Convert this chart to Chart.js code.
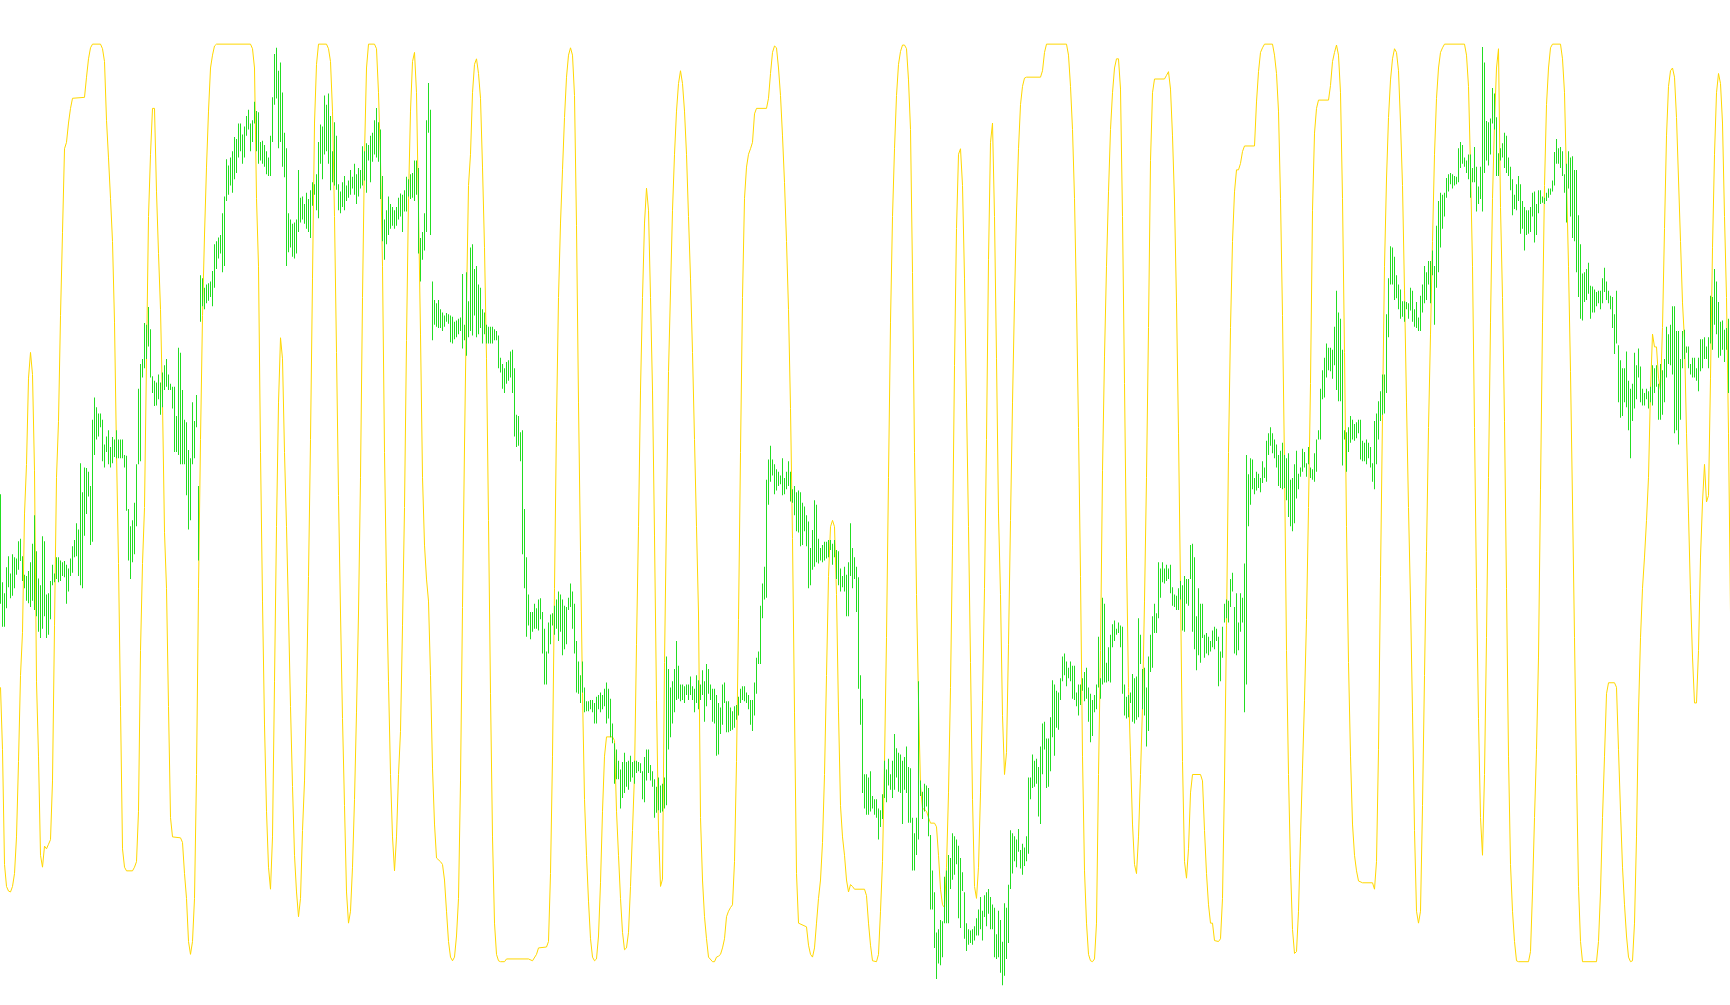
<!DOCTYPE html>
<html>
<head>
<meta charset="utf-8">
<title>Price bars and oscillator</title>
<script src="https://cdn.jsdelivr.net/npm/chart.js@4.4.1/dist/chart.umd.min.js"></script>
<style>
    html, body { margin: 0; padding: 0; background: #ffffff; }
    #wrap { width: 1730px; height: 1005px; }
</style>
</head>
<body>
<div id="wrap"><canvas id="chart" width="1730" height="1005"></canvas></div>
<script>
// Price bars: high and low for every bar (bar number = index)
const greenHigh = [
    1252,1110,1092,1134,1152,1124,1155,1150,1148,1176,
    1180,1152,1122,1120,1128,1142,1172,1218,1160,1116,
    1105,1184,1176,1090,1092,1112,1138,1124,1150,1150,
    1145,1142,1144,1138,1132,1148,1168,1178,1205,1195,
    1302,1255,1295,1294,1288,1265,1372,1408,1392,1382,
    1382,1372,1332,1345,1355,1328,1344,1340,1355,1340,
    1340,1340,1315,1314,1228,1200,1210,1238,1300,1422,
    1462,1470,1528,1525,1554,1518,1442,1435,1432,1445,
    1432,1448,1460,1470,1445,1430,1425,1425,1378,1488,
    1480,1420,1372,1368,1323,1310,1400,1370,1412,1265,
    1605,1600,1585,1590,1592,1595,1612,1655,1660,1666,
    1670,1705,1732,1792,1782,1795,1805,1828,1825,1850,
    1850,1832,1845,1862,1872,1850,1855,1885,1870,1868,
    1820,1822,1815,1805,1795,1830,1892,1962,1972,1935,
    1948,1900,1835,1810,1705,1695,1688,1690,1695,1775,
    1730,1732,1720,1738,1728,1742,1755,1752,1768,1820,
    1848,1845,1895,1880,1898,1862,1805,1852,1830,1752,
    1740,1755,1765,1750,1758,1775,1764,1785,1768,1778,
    1775,1813,1805,1818,1815,1830,1835,1855,1875,1852,
    1840,1765,1695,1710,1732,1720,1715,1710,1715,1730,
    1737,1735,1742,1764,1760,1768,1770,1790,1790,1778,
    1665,1675,1705,1855,1915,1872,1595,1565,1560,1565,
    1550,1545,1540,1544,1542,1540,1538,1530,1532,1535,
    1537,1607,1525,1610,1563,1650,1655,1615,1620,1590,
    1585,1550,1545,1525,1522,1522,1522,1518,1515,1508,
    1472,1462,1455,1465,1468,1482,1485,1455,1380,1378,
    1352,1355,1228,1150,1090,1062,1062,1075,1068,1082,
    1084,1062,1035,998,1045,1058,1060,1072,1082,1095,
    1090,1082,1072,1070,1085,1108,1095,1075,1015,982,
    960,982,940,918,918,920,920,915,925,928,
    932,928,938,948,938,922,882,850,840,822,
    808,820,835,820,822,830,820,822,822,820,
    818,805,828,840,840,815,805,792,780,795,
    782,785,795,990,970,940,950,970,1015,975,
    945,945,942,945,945,958,942,938,960,952,
    945,968,950,978,970,945,938,938,928,915,
    908,945,948,918,918,908,902,910,912,925,
    938,942,942,932,928,920,920,948,988,998,
    1072,1108,1135,1275,1308,1330,1308,1300,1292,1288,
    1282,1310,1278,1288,1305,1288,1260,1265,1255,1258,
    1255,1238,1232,1218,1208,1165,1194,1242,1235,1180,
    1165,1170,1175,1175,1178,1178,1172,1178,1162,1160,
    1132,1120,1135,1122,1142,1205,1165,1150,1135,1118,
    960,922,800,800,795,805,765,760,760,745,
    742,768,822,808,825,800,822,865,842,835,
    832,822,828,845,812,810,730,705,730,950,
    790,772,785,782,778,702,645,610,545,550,
    565,563,635,645,670,665,705,700,695,685,
    665,642,610,560,550,548,550,555,568,582,
    602,580,605,610,615,602,590,585,542,580,
    565,530,592,585,622,710,705,700,695,712,
    678,688,682,700,795,795,832,822,825,812,
    845,882,885,858,858,892,952,945,935,932,
    955,990,995,982,972,982,975,975,932,945,
    945,955,965,972,940,930,920,928,945,1022,
    955,1085,1075,980,1005,1025,1042,1048,1035,1045,
    1040,1038,945,925,928,932,962,955,958,1052,
    1025,970,972,940,990,1025,1055,1075,1060,1142,
    1132,1142,1132,1138,1132,1138,1102,1090,1088,1100,
    1112,1105,1120,1115,1115,1170,1172,1150,1055,1100,
    1075,1075,1025,1028,1022,1015,1032,1038,1035,1022,
    998,1038,1075,1082,1080,1115,1125,1070,1092,1045,
    1092,1085,1140,1315,1284,1310,1308,1278,1288,1285,
    1278,1305,1295,1338,1350,1360,1350,1340,1332,1315,
    1322,1335,1315,1310,1318,1275,1278,1300,1322,1285,
    1295,1325,1320,1302,1328,1295,1292,1318,1340,1355,
    1422,1452,1472,1495,1488,1488,1485,1522,1580,1545,
    1535,1485,1355,1352,1360,1378,1372,1365,1368,1372,
    1372,1338,1335,1340,1335,1328,1302,1370,1382,1402,
    1418,1445,1445,1542,1600,1652,1650,1635,1605,1590,
    1582,1563,1563,1562,1560,1585,1580,1550,1562,1537,
    1572,1590,1620,1610,1628,1628,1645,1620,1685,1725,
    1738,1735,1738,1762,1768,1770,1768,1765,1764,1810,
    1820,1815,1795,1790,1800,1800,1778,1812,1780,1748,
    1780,1973,1948,1854,1852,1858,1907,1898,1860,1802,
    1810,1818,1835,1830,1795,1780,1760,1735,1752,1765,
    1752,1725,1715,1710,1710,1715,1738,1740,1720,1742,
    1742,1732,1730,1738,1745,1745,1758,1804,1825,1810,
    1812,1805,1768,1785,1805,1795,1797,1775,1775,1702,
    1655,1608,1610,1615,1625,1588,1587,1582,1578,1580,
    1580,1600,1617,1595,1580,1572,1570,1542,1580,1492,
    1468,1455,1455,1482,1435,1422,1430,1480,1460,1487,
    1458,1422,1415,1422,1418,1425,1460,1455,1460,1430,
    1462,1452,1470,1522,1510,1525,1555,1555,1515,1515,
    1470,1515,1517,1490,1490,1462,1472,1472,1455,1472,
    1502,1502,1505,1490,1505,1572,1570,1615,1595,1562,
    1530,1532,1517,1520,1535
];

const greenLow = [
    1075,1038,1038,1068,1102,1084,1088,1100,1122,1130,
    1144,1112,1100,1080,1076,1070,1080,1065,1055,1030,
    1020,1035,1055,1020,1025,1050,1105,1110,1115,1110,
    1112,1120,1118,1075,1095,1120,1125,1150,1152,1120,
    1105,1100,1185,1220,1248,1170,1175,1315,1340,1345,
    1360,1305,1295,1320,1300,1295,1302,1312,1310,1310,
    1310,1310,1295,1225,1145,1115,1142,1155,1200,1300,
    1305,1440,1455,1470,1490,1440,1415,1394,1395,1405,
    1380,1392,1420,1425,1420,1420,1390,1320,1320,1315,
    1300,1300,1300,1250,1195,1210,1300,1310,1360,1145,
    1530,1555,1550,1560,1564,1570,1555,1585,1615,1632,
    1640,1610,1620,1725,1735,1750,1738,1760,1770,1795,
    1805,1785,1795,1830,1840,1805,1820,1850,1805,1785,
    1790,1785,1780,1768,1765,1765,1820,1880,1890,1810,
    1820,1780,1763,1620,1642,1650,1635,1632,1640,1675,
    1690,1695,1688,1680,1675,1665,1717,1735,1710,1697,
    1785,1760,1800,1805,1785,1742,1755,1750,1743,1710,
    1705,1715,1710,1725,1730,1735,1745,1735,1720,1732,
    1745,1750,1758,1738,1790,1755,1788,1800,1795,1788,
    1728,1660,1630,1655,1670,1680,1685,1680,1685,1695,
    1700,1675,1708,1708,1732,1728,1730,1725,1735,1640,
    1595,1630,1645,1675,1835,1670,1500,1525,1522,1520,
    1520,1515,1522,1530,1527,1497,1495,1502,1505,1510,
    1515,1487,1500,1475,1505,1515,1508,1540,1505,1510,
    1520,1495,1510,1495,1495,1495,1495,1500,1500,1455,
    1448,1422,1415,1430,1435,1440,1415,1345,1328,1330,
    1305,1155,1100,1022,1040,1018,1030,1035,1035,1032,
    1050,995,945,945,995,1010,1040,1025,1035,1015,
    1030,992,1002,1010,1065,1070,1035,995,932,930,
    915,932,900,902,902,905,900,882,882,905,
    900,905,910,882,890,860,850,785,792,792,
    745,762,770,780,775,788,795,785,802,805,
    802,760,755,790,802,790,780,730,738,742,
    738,740,745,750,840,860,882,900,920,922,
    918,920,915,928,920,928,920,900,915,905,
    920,928,885,910,930,920,885,882,830,832,
    865,880,915,868,868,870,872,875,888,895,
    915,920,918,915,905,880,870,895,930,978,
    978,1052,1082,1085,1235,1272,1282,1252,1258,1265,
    1268,1250,1252,1260,1265,1240,1238,1218,1192,1190,
    1168,1170,1192,1168,1100,1105,1130,1135,1142,1140,
    1145,1142,1145,1148,1150,1162,1138,1150,1115,1105,
    1095,1102,1095,1055,1055,1120,1100,1115,1062,938,
    880,770,745,735,735,740,745,735,730,695,
    715,728,762,755,782,775,762,775,795,772,
    770,720,775,770,722,722,645,645,670,695,
    765,728,740,748,700,582,582,520,470,495,
    492,505,560,560,560,615,630,638,655,568,
    552,612,535,515,525,528,525,532,540,540,
    550,532,570,555,575,550,550,505,502,505,
    480,460,475,502,528,615,640,660,650,675,
    648,638,652,660,672,760,778,780,785,732,
    720,800,840,778,780,805,860,830,875,872,
    920,950,960,942,955,950,922,920,910,895,
    912,935,918,922,885,852,862,900,905,940,
    922,945,948,948,950,948,1005,1015,1025,1028,
    1005,930,895,890,892,915,885,882,888,892,
    978,905,895,845,870,965,972,1028,1028,1052,
    1085,1110,1108,1112,1115,1092,1072,1070,1065,1065,
    1082,1032,1030,1075,1072,1115,1030,1002,968,992,
    980,1020,988,995,992,998,1005,1002,1015,942,
    950,988,1045,1052,1045,1070,1095,995,992,1000,
    1030,1045,900,945,1200,1235,1260,1252,1258,1262,
    1255,1270,1278,1272,1315,1330,1318,1310,1295,1265,
    1262,1260,1262,1242,1215,1200,1192,1205,1245,1260,
    1280,1288,1295,1280,1300,1278,1275,1272,1288,1340,
    1340,1405,1408,1440,1452,1450,1438,1460,1420,1402,
    1402,1298,1340,1288,1320,1335,1340,1338,1342,1350,
    1308,1305,1305,1300,1310,1295,1272,1260,1300,1340,
    1370,1380,1382,1415,1505,1590,1590,1565,1568,1550,
    1535,1538,1530,1550,1535,1548,1530,1522,1520,1515,
    1515,1545,1560,1565,1590,1560,1605,1525,1585,1610,
    1650,1680,1700,1730,1740,1752,1745,1750,1752,1755,
    1778,1785,1780,1770,1760,1730,1755,1755,1708,1720,
    1728,1708,1770,1790,1782,1800,1850,1840,1765,1765,
    1790,1795,1778,1770,1765,1742,1702,1712,1710,1725,
    1672,1680,1645,1670,1672,1675,1700,1658,1670,1705,
    1720,1722,1720,1725,1730,1735,1740,1750,1785,1785,
    1778,1765,1738,1690,1745,1700,1665,1660,1610,1570,
    1535,1532,1562,1565,1575,1535,1545,1545,1555,1560,
    1550,1560,1578,1565,1560,1550,1520,1478,1495,1400,
    1375,1378,1400,1392,1355,1310,1370,1390,1405,1440,
    1400,1395,1395,1405,1390,1400,1395,1415,1425,1372,
    1372,1380,1400,1440,1462,1460,1445,1350,1355,1332,
    1372,1455,1470,1480,1455,1445,1440,1440,1435,1418,
    1450,1455,1470,1470,1455,1495,1485,1525,1510,1472,
    1475,1485,1465,1485,1415
];

// Oscillator (0-100): bar number and reading
const oscBar = [
    0,1,2,3,4,5,6,7,8,9,
    10,11,12,13,14,15,16,17,18,19,
    20,21,22,23,24,25,26,27,28,29,
    30,31,32,33,34,35,36,42,43,44,
    45,46,50,51,52,53,54,55,56,57,
    58,59,60,61,62,63,66,67,68,69,
    70,71,72,73,74,75,76,77,78,79,
    80,81,82,83,84,85,86,90,91,92,
    93,94,95,96,97,98,99,100,101,102,
    103,104,105,106,107,108,125,126,127,128,
    129,130,131,132,133,134,135,136,137,138,
    139,140,141,142,143,144,145,146,147,148,
    149,150,151,152,153,154,155,156,157,158,
    159,163,164,165,166,167,168,169,170,171,
    172,173,174,175,176,177,178,179,180,181,
    182,183,184,187,188,189,190,191,192,193,
    194,195,196,197,198,199,200,201,202,203,
    204,205,206,207,208,209,210,211,212,213,
    214,215,216,217,218,220,221,222,223,224,
    225,226,227,228,229,230,231,232,233,234,
    235,236,237,238,239,240,241,242,243,244,
    245,246,247,248,249,250,252,253,264,266,
    268,269,273,274,275,276,277,278,279,280,
    281,282,283,284,285,286,287,288,289,290,
    291,292,293,294,295,296,297,298,299,300,
    301,302,303,306,307,308,309,310,311,312,
    313,314,315,316,317,318,319,320,321,322,
    323,324,325,326,327,328,329,330,331,332,
    333,334,335,336,337,338,339,340,341,342,
    343,344,345,346,347,348,349,350,351,352,
    353,354,356,357,358,359,360,361,362,363,
    364,365,366,367,368,369,370,371,372,373,
    374,375,376,377,378,383,384,385,386,387,
    388,389,390,391,392,393,394,395,396,397,
    398,399,403,404,405,406,407,408,409,410,
    411,412,413,414,415,416,417,418,419,420,
    421,422,423,424,425,426,427,432,433,434,
    435,436,438,439,440,441,442,443,444,445,
    446,447,448,449,450,451,452,453,454,455,
    456,457,458,459,460,461,462,463,464,465,
    467,468,469,470,471,472,473,474,475,476,
    477,478,479,480,481,482,483,484,485,486,
    487,488,489,490,491,492,493,494,495,496,
    497,498,499,500,501,502,503,504,505,506,
    507,508,509,510,511,512,513,520,521,522,
    523,533,534,535,536,537,538,539,540,541,
    542,543,544,545,546,547,548,549,550,551,
    552,553,554,555,556,557,558,559,560,561,
    562,563,564,565,566,567,568,569,570,571,
    572,573,574,575,576,577,582,583,584,585,
    586,587,588,589,590,591,592,593,594,595,
    596,600,601,602,603,604,605,606,607,609,
    610,611,612,613,614,615,616,617,618,619,
    620,621,622,627,628,629,630,631,632,636,
    637,638,639,640,641,642,643,644,645,646,
    647,648,649,650,651,652,653,654,655,656,
    657,658,659,664,665,666,667,668,669,670,
    671,672,673,674,675,676,677,678,679,681,
    686,687,688,689,690,691,692,693,694,695,
    696,697,698,699,700,701,702,703,704,705,
    706,707,708,709,710,711,712,713,714,715,
    716,717,718,719,720,721,722,732,733,734,
    735,736,737,738,739,740,741,742,743,744,
    745,746,747,748,749,750,751,752,753,754,
    755,756,757,758,759,764,765,766,767,768,
    769,770,771,772,773,774,775,776,780,781,
    782,783,784,785,786,787,788,789,790,791,
    798,799,800,801,802,803,804,807,808,809,
    810,811,812,813,814,815,816,817,818,819,
    820,821,822,823,824,825,826,827,828,829,
    830,831,832,833,834,835,836,837,838,839,
    840,841,842,843,844,845,846,847,848,849,
    850,851,852,853,854,855,856,857,858,859,
    860,861,862,863,864,865
];

const oscValue = [
    29.9,23.1,10.6,8.2,7.7,7.6,8.2,9.6,13.6,21.8,
    31.2,35.9,48.8,54.2,63.6,66.4,64.0,53.5,30.5,22.4,
    11.6,10.3,12.6,12.3,12.8,13.3,19.7,36.6,52.8,58.9,
    70.4,79.5,88.6,89.3,91.4,93.0,94.1,94.2,96.4,98.4,
    99.6,100,100,99.5,98.1,91.7,87.6,83.2,78.5,69.7,
    55.5,43.4,27.8,12.3,10.3,9.9,9.9,10.3,10.9,16.4,
    33.9,43.4,49.5,65.7,81.2,88.0,93.0,93.0,83.9,77.2,
    71.1,60.9,46.8,40.7,27.8,15.7,13.6,13.5,13.0,9.6,
    6.9,2.2,0.8,2.2,6.9,20.4,40.7,56.9,70.4,79.2,
    86.6,92.7,97.4,98.8,99.8,100,100,99.5,97.4,83.2,
    75.8,55.5,39.3,25.8,16.4,10.3,7.9,13.6,30.5,47.4,
    60.9,68.0,65.7,55.5,47.4,38.0,27.8,19.1,11.6,7.6,
    4.9,6.9,14.3,19.7,29.2,42.0,56.9,74.5,91.4,97.8,
    100,100,99.5,98.1,92.7,81.2,66.4,50.8,38.0,26.5,
    17.0,7.6,4.2,5.5,10.3,17.7,27.2,38.0,52.8,72.4,
    88.0,97.4,100,100,99.5,94.7,87.3,75.8,55.5,41.3,
    30.5,20.4,13.6,9.9,13.6,20.4,25.1,36.6,49.5,67.7,
    83.2,92.7,98.1,99.1,94.7,81.9,68.4,52.8,45.4,41.7,
    39.3,31.2,21.1,15.0,11.3,10.9,10.6,8.9,5.5,2.2,
    0.5,0.1,0.5,2.8,6.9,19.7,38.6,56.2,71.8,84.6,
    88.0,94.7,97.8,98.4,96.8,94.1,86.6,77.8,65.7,48.1,
    29.2,13.6,4.2,0.8,0.1,0,0,0.3,0.3,0.1,
    0.8,1.5,1.6,2.2,9.6,22.4,40.7,58.9,72.4,80.5,
    86.3,92.0,96.4,98.8,99.6,98.8,94.4,80.2,60.9,44.7,
    29.2,17.7,11.6,6.6,2.5,0.5,0.1,0.3,2.8,8.6,
    16.4,22.4,24.5,24.5,24.1,16.4,11.6,6.9,3.2,1.3,
    1.5,3.2,8.2,14.3,20.4,34.6,47.4,62.3,72.4,80.5,
    84.3,81.9,72.4,62.3,46.4,28.5,14.3,8.2,9.0,32.6,
    48.8,64.3,73.1,81.9,88.0,92.7,95.7,97.1,95.7,92.7,
    88.0,81.2,74.5,66.4,56.9,47.4,38.0,15.7,8.9,4.9,
    2.5,0.5,0,0,0.5,0.6,0.8,1.5,2.5,4.9,
    5.5,5.9,6.2,10.9,21.8,37.3,55.5,72.4,83.2,86.6,
    88.0,88.6,89.3,92.4,93.0,93.0,94.1,96.8,99.1,99.8,
    99.6,97.4,94.4,90.0,84.9,78.5,71.1,60.3,46.1,27.2,
    9.6,4.2,3.8,1.8,0.8,0.5,1.5,4.2,6.9,8.9,
    13.0,20.4,31.2,42.0,47.4,48.1,47.4,40.0,27.2,17.0,
    13.6,11.6,8.9,7.6,8.4,8.2,7.9,7.9,7.2,4.2,
    1.8,0.1,0,0.8,5.5,10.9,21.8,35.3,52.8,69.7,
    81.2,88.6,94.4,97.8,99.2,99.9,99.9,99.5,96.1,90.7,
    75.1,55.5,40.0,28.5,19.1,16.7,16.6,16.4,15.7,15.1,
    15.1,14.7,11.6,7.9,6.2,5.9,10.3,18.4,29.9,45.4,
    65.0,79.9,88.0,88.6,84.6,74.5,60.9,47.4,32.6,17.7,
    8.2,6.9,10.3,18.4,28.5,40.7,56.9,76.5,89.3,91.4,
    81.2,65.7,48.8,40.0,26.8,20.4,22.8,34.6,48.1,60.9,
    72.1,81.6,88.6,93.4,95.4,96.3,96.4,96.4,97.1,99.1,
    100,100,98.8,95.4,90.7,83.2,71.8,58.2,42.0,22.4,
    9.9,4.2,0.8,0.1,0,0.3,4.2,20.4,33.9,53.5,
    66.0,75.8,83.9,90.7,94.7,97.4,98.4,98.4,95.1,81.2,
    63.0,44.1,29.9,22.4,15.0,10.6,9.6,13.6,20.4,27.8,
    39.3,52.8,69.1,87.3,94.7,96.2,96.2,96.6,97.0,95.1,
    90.0,82.9,71.8,57.6,40.7,21.8,10.9,9.1,12.3,18.4,
    20.4,20.4,19.7,14.3,9.6,6.2,4.2,4.2,2.3,2.2,
    2.5,6.9,19.7,36.6,55.5,69.1,78.5,83.9,86.3,86.3,
    87.0,88.3,88.9,88.9,93.7,97.0,99.1,99.6,100,100,
    98.8,96.8,92.7,83.2,70.4,54.2,33.9,20.4,10.3,3.5,
    0.9,1.1,5.5,13.6,21.1,28.5,37.3,49.5,63.0,81.9,
    90.3,93.0,93.9,93.9,95.5,98.1,99.1,99.9,98.8,94.7,
    83.2,66.4,47.4,32.6,22.4,15.0,11.6,9.9,8.8,8.6,
    8.6,7.9,10.9,23.1,42.0,59.6,75.8,85.3,92.0,96.1,
    98.4,99.5,99.1,97.1,91.4,84.6,73.1,60.9,49.5,39.3,
    27.2,14.3,5.5,4.2,5.5,17.0,31.2,44.7,58.2,68.4,
    78.5,88.0,94.1,97.4,99.1,99.6,100,100,98.8,95.4,
    86.6,75.8,58.2,40.7,26.5,15.7,11.6,20.4,35.3,52.8,
    69.7,83.2,91.4,97.4,99.5,82.2,72.4,58.9,40.7,22.4,
    10.6,5.5,2.2,0.1,0,0,1.1,7.6,15.7,23.1,
    33.2,51.5,69.7,84.6,93.4,97.4,99.6,100,100,98.4,
    94.7,85.3,75.8,64.3,50.1,35.3,20.4,8.2,2.2,0,
    0,2.2,7.6,15.7,22.4,29.2,30.4,30.4,29.9,23.1,
    16.4,10.3,6.2,2.8,0.5,0,0.1,4.2,13.6,27.2,
    35.3,40.7,44.1,48.1,52.8,62.3,68.4,67.0,67.0,63.6,
    62.3,69.1,79.9,90.0,95.4,97.1,97.4,96.4,92.0,85.3,
    78.5,71.8,67.7,57.6,48.8,40.0,33.2,28.2,28.2,33.9,
    44.1,50.1,54.2,50.1,50.8,63.6,77.8,88.0,94.7,96.8,
    95.7,91.4,81.2,72.4,57.6,38.0
];

const BAR_COLOR = '#22dd22';
const OSC_COLOR = '#ffd700';

document.addEventListener('DOMContentLoaded', function() {
    const priceBars = greenHigh.map((high, i) => ({ x: i, y: [greenLow[i], high] }));
    const oscLine = oscBar.map((bar, i) => ({ x: bar, y: oscValue[i] }));

    new Chart(document.getElementById('chart'), {
        type: 'bar',
        data: {
            datasets: [
                {
                    type: 'bar',
                    data: priceBars,
                    backgroundColor: BAR_COLOR,
                    borderWidth: 0,
                    barThickness: 1,
                    inflateAmount: 0,
                    yAxisID: 'y',
                    order: 0
                },
                {
                    type: 'line',
                    data: oscLine,
                    borderColor: OSC_COLOR,
                    borderWidth: 1,
                    pointRadius: 0,
                    tension: 0,
                    fill: false,
                    yAxisID: 'osc',
                    order: 1
                }
            ]
        },
        options: {
            responsive: false,
            devicePixelRatio: 1,
            animation: false,
            layout: { padding: 0 },
            plugins: {
                legend: { display: false },
                tooltip: { enabled: false }
            },
            scales: {
                x: { type: 'linear', min: -0.25, max: 864.75, offset: false, display: false },
                y: { type: 'linear', min: 428, max: 2049, display: false },
                osc: { type: 'linear', min: -4.72, max: 104.81, display: false }
            }
        }
    });
});
</script>
</body>
</html>
